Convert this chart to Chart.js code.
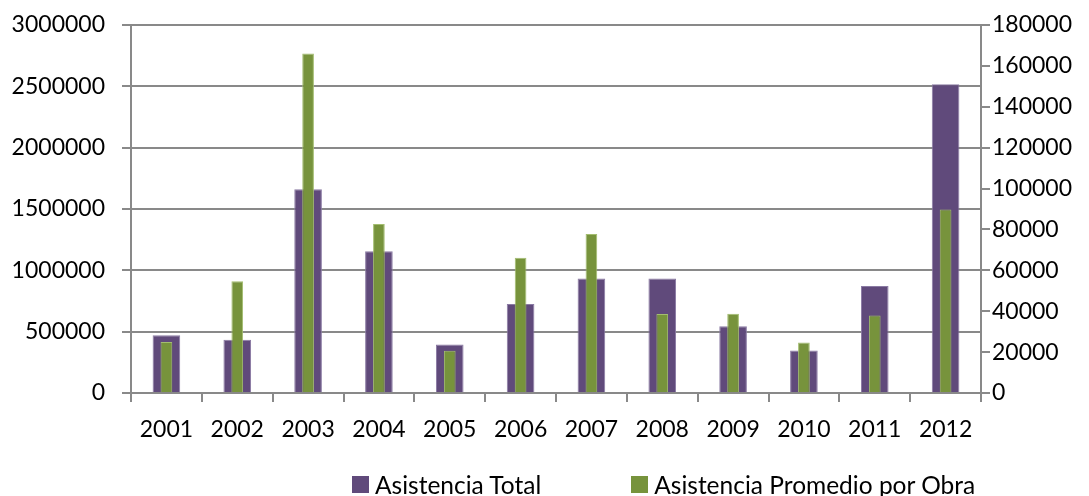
<!DOCTYPE html>
<html>
<head>
<meta charset="utf-8">
<title>Asistencia 2001-2012</title>
<script src="https://cdn.jsdelivr.net/npm/chart.js@4.4.1/dist/chart.umd.min.js"></script>
<style>
  html, body { margin: 0; padding: 0; background: #fff; }
  #wrap { position: relative; width: 1089px; height: 496px; }
  #legend {
    position: absolute; left: 352px; top: 470px;
    font-family: Lato, "Open Sans", sans-serif; font-size: 24.5px; color: #000;
    display: flex; align-items: center; white-space: nowrap;
  }
  #legend .item { display: flex; align-items: center; }
  #legend .box { width: 17px; height: 17px; margin-right: 6px; }
</style>
</head>
<body>
<div id="wrap">
  <canvas id="chart" width="1089" height="496"></canvas>
  <div id="legend"></div>
</div>
<script>
// === data ===
const years = ["2001", "2002", "2003", "2004", "2005", "2006", "2007", "2008", "2009", "2010", "2011", "2012"];
const asistenciaTotal = [470000, 435000, 1660000, 1156000, 395000, 726000, 933000, 933000, 544000, 346000, 873000, 2518000];
const asistenciaPromedio = [25000, 54600, 166000, 82700, 20700, 66200, 77800, 38600, 38800, 24700, 37900, 89700];

const leftMax = 3000000, leftStep = 500000;
const rightMax = 180000, rightStep = 20000;

const PURPLE = "#604a7b";
const GREEN = "#77933c";
const GRID = "#898989";
const FONT = { family: "Lato, 'Open Sans', sans-serif", size: 23 };

// legend built in html so it can sit off-centre like the original
const legendItems = [
  { label: "Asistencia Total", color: PURPLE },
  { label: "Asistencia Promedio por Obra", color: GREEN }
];
const legendEl = document.getElementById("legend");
legendItems.forEach((it, i) => {
  const item = document.createElement("span");
  item.className = "item";
  if (i > 0) item.style.marginLeft = "90px";
  const box = document.createElement("span");
  box.className = "box";
  box.style.background = it.color;
  item.appendChild(box);
  item.appendChild(document.createTextNode(it.label));
  legendEl.appendChild(item);
});

// plain integers, no thousands separators
const plain = v => String(v);

// fixed axis widths; drop the label overhang so the plot top stays at the layout padding
const fixWidth = w => s => { s.width = w; s.paddingTop = 0; s.paddingBottom = 0; };

new Chart(document.getElementById("chart"), {
  type: "bar",
  data: {
    labels: years,
    datasets: [
      {
        label: "Asistencia Total",
        data: asistenciaTotal,
        yAxisID: "y",
        backgroundColor: PURPLE,
        borderColor: "#8a7aa3",
        borderWidth: 1,
        barPercentage: 0.39,
        categoryPercentage: 1,
        order: 1
      },
      {
        label: "Asistencia Promedio por Obra",
        data: asistenciaPromedio,
        yAxisID: "y1",
        backgroundColor: GREEN,
        borderColor: "#a3bd6f",
        borderWidth: 1,
        barPercentage: 0.165,
        categoryPercentage: 1,
        order: 0
      }
    ]
  },
  options: {
    responsive: false,
    animation: false,
    grouped: false,
    layout: { padding: { top: 25, left: 0, right: 0, bottom: 0 } },
    plugins: { legend: { display: false }, tooltip: { enabled: false } },
    scales: {
      x: {
        afterFit: s => { s.height = 103; },
        grid: { drawOnChartArea: false, offset: true, tickLength: 9, color: GRID, lineWidth: 2 },
        border: { color: GRID, width: 2 },
        ticks: { color: "#000", font: FONT, padding: 14, maxRotation: 0 }
      },
      y: {
        position: "left",
        min: 0,
        max: leftMax,
        afterFit: fixWidth(131),
        grid: { color: GRID, lineWidth: 2, tickLength: 9 },
        border: { color: GRID, width: 2 },
        ticks: { stepSize: leftStep, color: "#000", font: FONT, padding: 17, callback: plain }
      },
      y1: {
        position: "right",
        min: 0,
        max: rightMax,
        afterFit: fixWidth(108),
        grid: { drawOnChartArea: false, color: GRID, lineWidth: 2, tickLength: 9 },
        border: { color: GRID, width: 2 },
        ticks: { stepSize: rightStep, color: "#000", font: FONT, padding: 2, callback: plain }
      }
    }
  }
});
</script>
</body>
</html>
